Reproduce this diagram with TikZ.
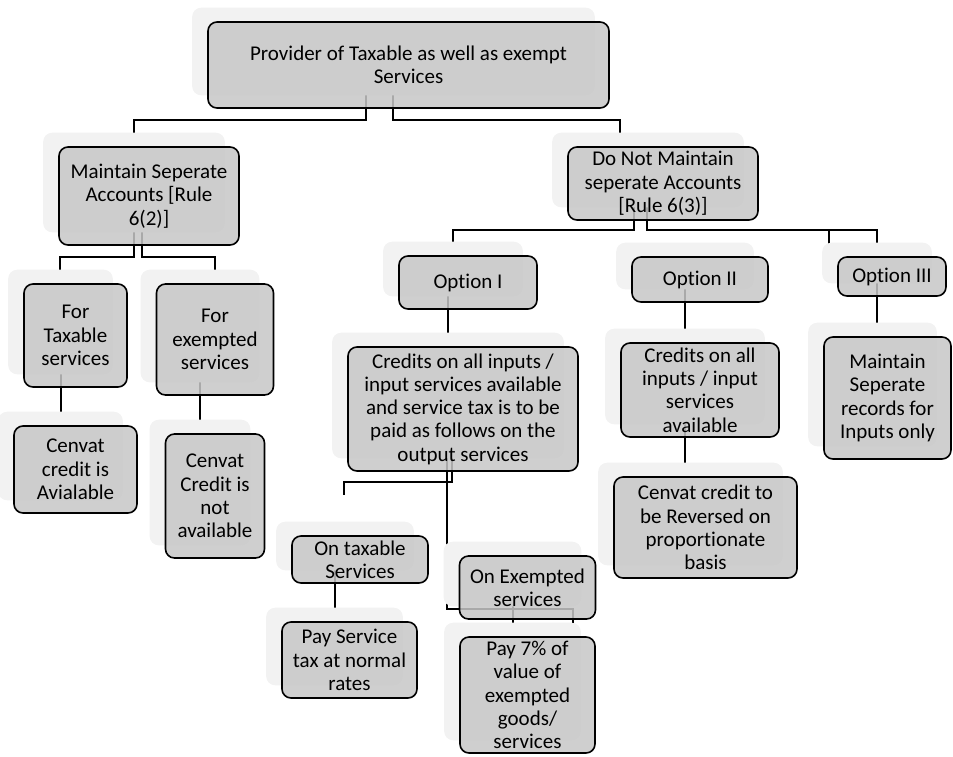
\documentclass[tikz,border=0pt]{standalone}
\usepackage{fontspec}
\setmainfont{Carlito}[Ligatures=NoCommon]
\usetikzlibrary{backgrounds}
\pgfdeclarelayer{shade}
\pgfsetlayers{background,shade,main}

\begin{document}
\begin{tikzpicture}[x=1pt,y=-1pt,
        smartbox/.style={draw=black,line width=1.6pt,rounded corners=9pt,fill=black!22,fill opacity=0.85,text opacity=1,
                align=center,inner sep=0pt,font=\fontsize{21}{23.3}\selectfont},
        ghost/.style={fill=black!5,rounded corners=9pt},
        link/.style={line width=2.2pt}]
        \useasboundingbox (0,0) rectangle (953,756);
        \node [smartbox,minimum width=401pt,minimum height=86pt] (prov) at (408.5,65) {Provider of Taxable as well as exempt\\Services};
        \node [smartbox,minimum width=180pt,minimum height=98pt] (maint) at (149,196) {Maintain Seperate\\Accounts [Rule\\6(2)]};
        \node [smartbox,minimum width=190pt,minimum height=73pt] (donot) at (663,183.5) {Do Not Maintain\\seperate Accounts\\{}[Rule 6(3)]};
        \node [smartbox,minimum width=103pt,minimum height=103pt] (fortax) at (75.5,335.5) {For\\Taxable\\services};
        \node [smartbox,minimum width=117pt,minimum height=111pt] (forexm) at (215,339.5) {For\\exempted\\services};
        \node [smartbox,minimum width=123pt,minimum height=87pt] (cenav) at (75.5,469.5) {Cenvat\\credit is\\Avialable};
        \node [smartbox,minimum width=99pt,minimum height=124pt] (cennot) at (215,496) {Cenvat\\Credit is\\not\\available};
        \node [smartbox,minimum width=138pt,minimum height=53pt] (opt1) at (468,282.5) {Option I};
        \node [smartbox,minimum width=136pt,minimum height=45pt] (opt2) at (700,279.5) {Option II};
        \node [smartbox,minimum width=108pt,minimum height=39pt] (opt3) at (892,276.5) {Option III};
        \node [smartbox,minimum width=230pt,minimum height=124pt] (cred1) at (463,409) {Credits on all inputs /\\input services available\\and service tax is to be\\paid as follows on the\\output services};
        \node [smartbox,minimum width=158pt,minimum height=94pt] (cred2) at (700,390) {Credits on all\\inputs / input\\services\\available};
        \node [smartbox,minimum width=127pt,minimum height=122pt] (recs) at (887.5,398) {Maintain\\Seperate\\records for\\Inputs only};
        \node [smartbox,minimum width=183pt,minimum height=101pt] (cenrev) at (705.5,527.5) {Cenvat credit to\\be Reversed on\\proportionate\\basis};
        \node [smartbox,minimum width=136pt,minimum height=47pt] (ontax) at (360,559.5) {On taxable\\Services};
        \node [smartbox,minimum width=136pt,minimum height=63pt] (onex) at (527.5,587.5) {On Exempted\\services};
        \node [smartbox,minimum width=135pt,minimum height=76pt] (paynorm) at (349.5,660) {Pay Service\\tax at normal\\rates};
        \node [smartbox,minimum width=135pt,minimum height=116pt] (pay7) at (527.5,695) {Pay 7\% of\\value of\\exempted\\goods/\\services};
        \begin{pgfonlayer}{shade}
                \foreach \n in {prov,maint,donot,fortax,forexm,cenav,cennot,opt1,opt2,opt3,cred1,cred2,recs,cenrev,ontax,onex,paynorm,pay7}
                        \fill [ghost] ([xshift=-15pt,yshift=13.5pt]\n.south west) rectangle ([xshift=-15pt,yshift=13.5pt]\n.north east);
        \end{pgfonlayer}
        \begin{scope}[on background layer]
                \draw [link] ([xshift=-42.5pt]prov.center) |- ++(-232,55) -- ([xshift=-15pt]maint.center);
                \draw [link] ([xshift=-15.5pt]prov.center) |- ++(227,55) -- ([xshift=-43pt]donot.center);
                \draw [link] ([xshift=-15pt]maint.center) |- ++(-74,61) -- ([xshift=-15.5pt]fortax.center);
                \draw [link] ([xshift=-7pt]maint.center) |- ++(73,61) -- (forexm.center);
                \draw [link] ([xshift=-14.5pt]fortax.center) -- ([xshift=-14.5pt]cenav.center);
                \draw [link] ([xshift=-15pt]forexm.center) -- ([xshift=-15pt]cennot.center);
                \draw [link] ([xshift=-29pt]donot.center) |- ++(-181,46.5) -- ([xshift=-15pt]opt1.center);
                \draw [link] ([xshift=-16pt]donot.center) |- ++(230,46.5) -- ([xshift=-15pt]opt3.center);
                \draw [link] ([xshift=-16pt]donot.center) |- ++(182,46.5) -- ([xshift=-63pt]opt3.center);
                \draw [link] ([xshift=-20pt]opt1.center) -- ([xshift=-15pt]cred1.center);
                \draw [link] ([xshift=-15pt]opt2.center) -- ([xshift=-15pt]cred2.center);
                \draw [link] ([xshift=-15pt]opt3.center) -- ([xshift=-10.5pt]recs.center);
                \draw [link] ([xshift=-11pt]cred1.center) |- ++(-108,73) -- ++(0,13);
                \draw [link] ([xshift=-16pt]cred1.center) |- ++(126,200) -- ([xshift=45.5pt]pay7.center);
                \draw [link] ([xshift=-14.5pt]onex.center) -- ([xshift=-14.5pt]pay7.center);
                \draw [link] ([xshift=-25pt]ontax.center) -- ([xshift=-14.5pt]paynorm.center);
                \draw [link] ([xshift=-15pt]cred2.center) -- ([xshift=-20.5pt]cenrev.center);
        \end{scope}
\end{tikzpicture}
\end{document}
